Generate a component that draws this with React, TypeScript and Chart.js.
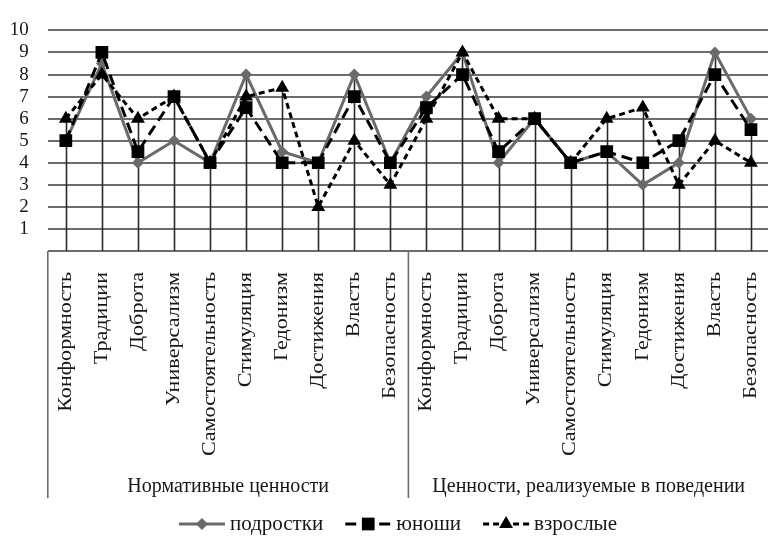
import React, { useEffect, useRef } from "react";
import { Chart, registerables } from "chart.js";

Chart.register(...registerables);

const valueNames = [
  "Конформность",
  "Традиции",
  "Доброта",
  "Универсализм",
  "Самостоятельность",
  "Стимуляция",
  "Гедонизм",
  "Достижения",
  "Власть",
  "Безопасность",
];
const categories = [...valueNames, ...valueNames];
const groupLabels = ["Нормативные ценности", "Ценности, реализуемые в поведении"];
const groupSizes = [10, 10];

const seriesNames = ["подростки", "юноши", "взрослые"];
const teens = [5, 8.5, 4, 5, 4, 8, 4.5, 4, 8, 4, 7, 9, 4, 6, 4, 4.5, 3, 4, 9, 6];
const youth = [5, 9, 4.5, 7, 4, 6.5, 4, 4, 7, 4, 6.5, 8, 4.5, 6, 4, 4.5, 4, 5, 8, 5.5];
const adults = [6, 8, 6, 7, 4, 7, 7.4, 2, 5, 3, 6, 9, 6, 6, 4, 6, 6.5, 3, 5, 4];

const yTickLabels = ["", "1", "2", "3", "4", "5", "6", "7", "8", "9", "10"];

const SERIF = "'Liberation Serif', 'Times New Roman', serif";
const TEXT = "#161616";
const GRID = "#6c6c6c";

function drawMarker(ctx: CanvasRenderingContext2D, style: string, x: number, y: number, r: number, color: string) {
  ctx.save();
  ctx.fillStyle = color;
  ctx.beginPath();
  if (style === "rectRot") {
    ctx.moveTo(x - r, y);
    ctx.lineTo(x, y - r);
    ctx.lineTo(x + r, y);
    ctx.lineTo(x, y + r);
  } else if (style === "rect") {
    const s = r * Math.SQRT1_2;
    ctx.rect(x - s, y - s, 2 * s, 2 * s);
  } else {
    ctx.moveTo(x, y - r);
    ctx.lineTo(x + r * 0.866, y + r * 0.5);
    ctx.lineTo(x - r * 0.866, y + r * 0.5);
  }
  ctx.closePath();
  ctx.fill();
  ctx.restore();
}

const decorPlugin = {
  id: "decor",
  beforeDatasetsDraw(chart: any) {
    const ctx: CanvasRenderingContext2D = chart.ctx;
    const xs = chart.scales.x;
    const ys = chart.scales.y;
    ctx.save();
    ctx.strokeStyle = "#2a2a2a";
    ctx.lineWidth = 1.6;
    categories.forEach((_, i) => {
      const m = Math.max(teens[i], youth[i], adults[i]);
      const x = Math.round(xs.getPixelForValue(i)) + 0.5;
      ctx.beginPath();
      ctx.moveTo(x, ys.getPixelForValue(m));
      ctx.lineTo(x, ys.getPixelForValue(0));
      ctx.stroke();
    });
    ctx.restore();
  },
  afterDraw(chart: any) {
    const ctx: CanvasRenderingContext2D = chart.ctx;
    const xs = chart.scales.x;
    const area = chart.chartArea;
    const bottom = area.bottom;
    const boxBottom = 498;
    ctx.save();
    // group separators
    ctx.strokeStyle = GRID;
    ctx.lineWidth = 1.6;
    const bounds: number[] = [area.left];
    let acc = 0;
    groupSizes.forEach((n) => {
      acc += n;
      if (acc < categories.length) {
        bounds.push((xs.getPixelForValue(acc - 1) + xs.getPixelForValue(acc)) / 2);
      }
    });
    bounds.push(area.right);
    bounds.forEach((bx) => {
      ctx.beginPath();
      ctx.moveTo(bx, bottom);
      ctx.lineTo(bx, boxBottom);
      ctx.stroke();
    });

    // rotated category labels
    ctx.fillStyle = TEXT;
    ctx.font = `18px ${SERIF}`;
    ctx.textAlign = "right";
    ctx.textBaseline = "middle";
    categories.forEach((lab, i) => {
      const x = xs.getPixelForValue(i);
      ctx.save();
      ctx.translate(x, bottom + 21);
      ctx.rotate(-Math.PI / 2);
      ctx.scale(1.23, 1);
      ctx.fillText(lab, 0, 0);
      ctx.restore();
    });

    // group labels
    ctx.font = `20px ${SERIF}`;
    ctx.textAlign = "center";
    ctx.textBaseline = "middle";
    groupLabels.forEach((g, gi) => {
      const cx = (bounds[gi] + bounds[gi + 1]) / 2;
      ctx.fillText(g, cx, 487);
    });

    // legend
    const ds = chart.data.datasets;
    ctx.font = `21px ${SERIF}`;
    ctx.textAlign = "left";
    const sampleW = 46;
    const gap = 5;
    const itemGap = 22;
    const widths = seriesNames.map((n) => sampleW + gap + ctx.measureText(n).width);
    const total = widths.reduce((a, b) => a + b, 0) + itemGap * (widths.length - 1);
    let lx = 398 - total / 2;
    const ly = 524;
    seriesNames.forEach((n, i) => {
      const d = ds[i];
      ctx.save();
      ctx.strokeStyle = d.borderColor;
      ctx.lineWidth = d.borderWidth;
      ctx.setLineDash(d.borderDash || []);
      ctx.beginPath();
      ctx.moveTo(lx, ly);
      ctx.lineTo(lx + sampleW, ly);
      ctx.stroke();
      ctx.restore();
      drawMarker(ctx, d.pointStyle, lx + sampleW / 2, ly, d.pointRadius, d.pointBackgroundColor);
      ctx.fillStyle = TEXT;
      ctx.fillText(n, lx + sampleW + gap, ly);
      lx += widths[i] + itemGap;
    });
    ctx.restore();
  },
};

export default function App() {
  const ref = useRef<HTMLCanvasElement>(null);
  useEffect(() => {
    const canvas = ref.current;
    if (!canvas) return;
    const chart = new Chart(canvas, {
      type: "line",
      data: {
        labels: categories,
        datasets: [
          {
            label: seriesNames[0],
            data: teens,
            borderColor: "#6a6a6a",
            backgroundColor: "#6a6a6a",
            pointBackgroundColor: "#6a6a6a",
            pointBorderColor: "#6a6a6a",
            borderWidth: 3,
            pointStyle: "rectRot",
            pointRadius: 6,
            pointBorderWidth: 0,
            tension: 0,
            order: 3,
          },
          {
            label: seriesNames[1],
            data: youth,
            borderColor: "#000000",
            backgroundColor: "#000000",
            pointBackgroundColor: "#000000",
            pointBorderColor: "#000000",
            borderWidth: 3,
            borderDash: [11, 6],
            pointStyle: "rect",
            pointRadius: 9,
            pointBorderWidth: 0,
            tension: 0,
            order: 1,
          },
          {
            label: seriesNames[2],
            data: adults,
            borderColor: "#000000",
            backgroundColor: "#000000",
            pointBackgroundColor: "#000000",
            pointBorderColor: "#000000",
            borderWidth: 3,
            borderDash: [6, 4],
            pointStyle: "triangle",
            pointRadius: 8,
            pointBorderWidth: 0,
            tension: 0,
            order: 2,
          },
        ] as any,
      },
      options: {
        animation: false,
        responsive: false,
        devicePixelRatio: 1,
        layout: { padding: { top: 19, right: 1.6, left: 0, bottom: 0 } },
        plugins: {
          legend: { display: false },
          tooltip: { enabled: false },
        },
        scales: {
          x: {
            type: "category",
            offset: true,
            grid: { display: false },
            border: { display: false },
            ticks: { display: false },
            afterFit: (s: any) => {
              s.height = 285;
            },
          },
          y: {
            min: 0,
            max: 10,
            ticks: {
              stepSize: 1,
              autoSkip: false,
              padding: 19,
              color: TEXT,
              font: { family: SERIF, size: 19 },
              callback: (_v: any, i: number) => yTickLabels[i],
            },
            grid: { color: GRID, lineWidth: 2, drawTicks: false },
            border: { display: false },
            afterFit: (s: any) => {
              s.width = 47.8;
            },
          },
        },
      } as any,
      plugins: [decorPlugin],
    });
    return () => chart.destroy();
  }, []);
  return (
    <div
      style={{
        position: "fixed",
        left: 0,
        top: 0,
        width: 768,
        height: 536,
        overflow: "hidden",
        background: "#ffffff",
      }}
    >
      <canvas ref={ref} width={778} height={536} style={{ display: "block", width: 778, height: 536 }} />
    </div>
  );
}
